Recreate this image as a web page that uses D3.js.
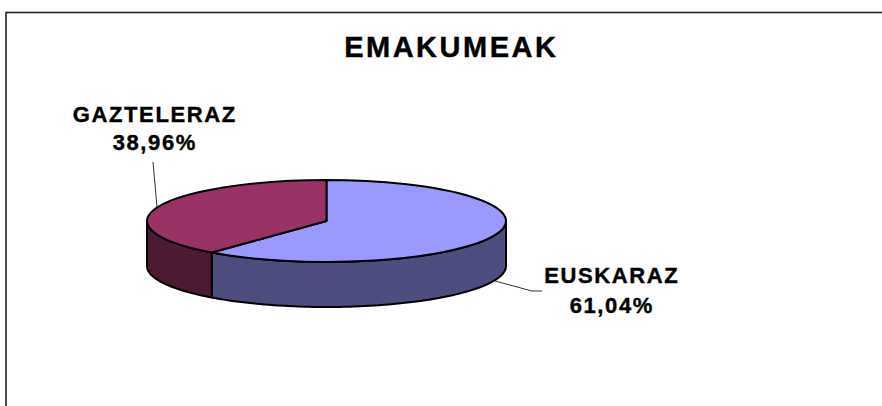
<!DOCTYPE html>
<html>
<head>
<meta charset="utf-8">
<script src="https://cdn.jsdelivr.net/npm/d3@7"></script>
<style>
  html, body { margin: 0; padding: 0; background: #fff; }
  svg { display: block; }
  text { font-family: "Liberation Sans", Arial, sans-serif; font-weight: bold; fill: #000; stroke: #000; stroke-width: 0.4px; }
</style>
</head>
<body>
<svg id="chart" width="882" height="406"></svg>
<script>
// ---- data ----
const title = "EMAKUMEAK";
const categories = ["EUSKARAZ", "GAZTELERAZ"];
const values = [61.04, 38.96];
const valueLabels = ["61,04%", "38,96%"];

// ---- styles / layout ----
const topColors = ["#9999FF", "#993366"];
const sideColors = ["#4D4D80", "#4D1A33"];
const W = 882, H = 406;
const cx = 326.5, cy = 221, rx = 179.5, ry = 41, depth = 45;

const svg = d3.select("#chart");

// frame
svg.append("rect")
  .attr("x", 6).attr("y", 12.5)
  .attr("width", W + 10).attr("height", H + 10)
  .attr("fill", "none").attr("stroke", "#222").attr("stroke-width", 1.6);

// title
const titleLS = 2.5;
svg.append("text")
  .attr("x", 450 + titleLS / 2).attr("y", 57)
  .attr("text-anchor", "middle")
  .style("font-size", "29px")
  .style("letter-spacing", titleLS + "px")
  .text(title);

// pie
const pie = d3.pie().sort(null).value(d => d.value).startAngle(0).endAngle(2 * Math.PI);
const data = categories.map((c, i) => ({ name: c, value: values[i], label: valueLabels[i], i }));
const arcs = pie(data);

const px = a => cx + rx * Math.sin(a);
const py = (a, dz = 0) => cy - ry * Math.cos(a) + dz;

const g = svg.append("g");

// side walls (front half: angles between PI/2 and 3PI/2)
arcs.forEach(d => {
  const a0 = Math.max(d.startAngle, Math.PI / 2);
  const a1 = Math.min(d.endAngle, 3 * Math.PI / 2);
  if (a1 <= a0) return;
  const n = 80;
  const angles = d3.range(n + 1).map(k => a0 + (a1 - a0) * k / n);
  const topPts = angles.map(a => [px(a), py(a)]);
  const botPts = angles.slice().reverse().map(a => [px(a), py(a, depth)]);
  g.append("path")
    .attr("d", d3.line()(topPts.concat(botPts)) + "Z")
    .attr("fill", sideColors[d.data.i])
    .attr("stroke", "#000").attr("stroke-width", 2)
    .attr("stroke-linejoin", "round");
});

// top faces
arcs.forEach(d => {
  const p = d3.path();
  p.moveTo(cx, cy);
  p.lineTo(px(d.startAngle), py(d.startAngle));
  const large = (d.endAngle - d.startAngle) > Math.PI ? 1 : 0;
  const path = p.toString() +
    `A${rx},${ry} 0 ${large} 1 ${px(d.endAngle)},${py(d.endAngle)}Z`;
  g.append("path")
    .attr("d", path)
    .attr("fill", topColors[d.data.i])
    .attr("stroke", "#000").attr("stroke-width", 2)
    .attr("stroke-linejoin", "round");
});

// leader lines & labels
const labelLS = 1.6;
const labelPos = [
  { x: 611, y1: 283, y2: 313, leader: [[495, 281], [532, 291], [542, 291]] },
  { x: 154, y1: 122, y2: 150, leader: [[153, 162], [157, 207]] }
];
arcs.forEach(d => {
  const lp = labelPos[d.data.i];
  svg.append("path")
    .attr("d", d3.line()(lp.leader))
    .attr("fill", "none").attr("stroke", "#333").attr("stroke-width", 1);
  svg.append("text")
    .attr("x", lp.x + labelLS / 2).attr("y", lp.y1)
    .attr("text-anchor", "middle")
    .style("font-size", "22px").style("letter-spacing", labelLS + "px")
    .text(d.data.name);
  svg.append("text")
    .attr("x", lp.x + labelLS / 2).attr("y", lp.y2)
    .attr("text-anchor", "middle")
    .style("font-size", "22px").style("letter-spacing", labelLS + "px")
    .text(d.data.label);
});
</script>
</body>
</html>
